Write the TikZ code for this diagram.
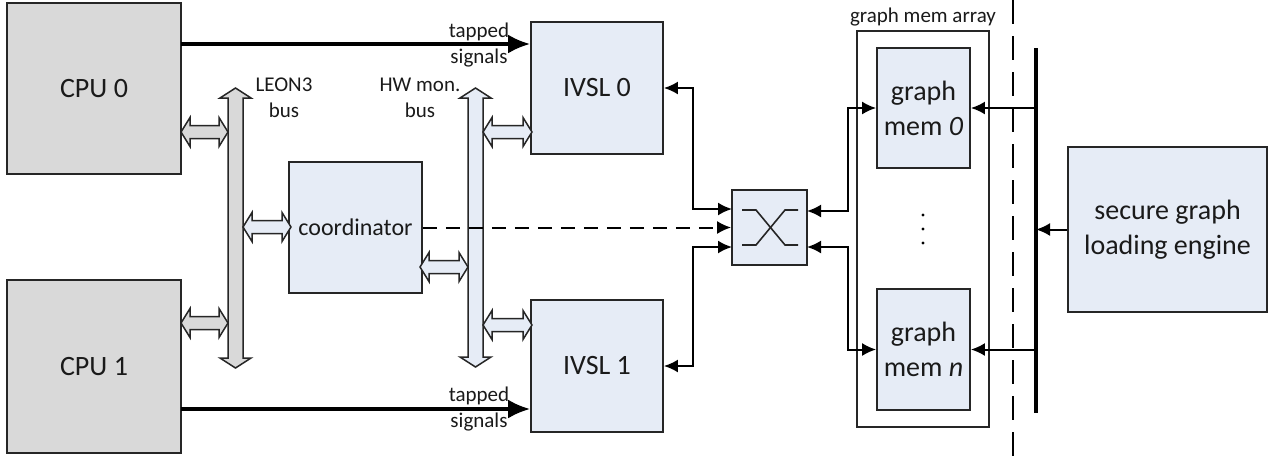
\documentclass[tikz,border=0pt]{standalone}
\usepackage{fontspec}
\setmainfont{Carlito}
\usetikzlibrary{arrows.meta}
\definecolor{cpugray}{HTML}{D9D9D9}
\definecolor{boxblue}{HTML}{E6ECF6}
\definecolor{edge}{HTML}{262626}
\definecolor{txt}{HTML}{1A1A1A}
\newcommand\fatH[4]{% x1 x2 y fill
  \filldraw[fill=#4,draw=edge,line width=1.5pt,line join=miter]
  (#1,#3) -- (#1+9,#3-14.5) -- (#1+9,#3-6.5) -- (#2-9,#3-6.5) -- (#2-9,#3-14.5) -- (#2,#3)
  -- (#2-9,#3+14.5) -- (#2-9,#3+6.5) -- (#1+9,#3+6.5) -- (#1+9,#3+14.5) -- cycle;}
\newcommand\fatV[4]{% cx ytop ybot fill
  \filldraw[fill=#4,draw=edge,line width=1.5pt,line join=miter]
  (#1,#2) -- (#1+15.5,#2+10) -- (#1+7.5,#2+10) -- (#1+7.5,#3-10) -- (#1+15.5,#3-10) -- (#1,#3)
  -- (#1-15.5,#3-10) -- (#1-7.5,#3-10) -- (#1-7.5,#2+10) -- (#1-15.5,#2+10) -- cycle;}
\begin{document}
\begin{tikzpicture}[x=1pt,y=-1pt,
  box/.style={draw=edge,line width=1.8pt,fill=boxblue,inner sep=0pt,align=center,text=txt,font=\fontsize{28}{35}\selectfont},
  cpubox/.style={box,fill=cpugray},
  lbl/.style={align=center,text=txt,font=\fontsize{21}{26}\selectfont,inner sep=0pt},
  conn/.style={draw=black,line width=2pt},
  tip/.style={-{Latex[length=14pt,width=13pt]}},
  tips/.style={{Latex[length=14pt,width=13pt]}-{Latex[length=14pt,width=13pt]}},
  tapped/.style={line width=3.2pt,-{Latex[length=22pt,width=19pt]}}]
\useasboundingbox (0,0) rectangle (1276,456);
\fill[white] (0,0) rectangle (1276,456);

% boxes
\node[cpubox,minimum width=174,minimum height=171] (cpu0) at (94,88.5) {CPU 0};
\node[cpubox,minimum width=174,minimum height=173] (cpu1) at (94,366.5) {CPU 1};
\node[box,minimum width=132,minimum height=132] (ivsl0) at (597,88) {IVSL 0};
\node[box,minimum width=132,minimum height=132] (ivsl1) at (597,366) {IVSL 1};
\node[box,minimum width=133,minimum height=131,font=\fontsize{24}{29}\selectfont] (coord) at (355.5,227.5) {coordinator};
\node[box,minimum width=75,minimum height=75] (sw) at (769.5,227.5) {};
\node[draw=edge,line width=1.8pt,fill=white,minimum width=132,minimum height=396,inner sep=0pt] (arr) at (923,229) {};
\node[box,minimum width=93,minimum height=120] (gm0) at (923.5,108) {graph\\mem \textit{0}};
\node[box,minimum width=93,minimum height=121] (gmn) at (923.5,349.5) {graph\\mem \textit{n}};
\node[box,minimum width=199,minimum height=165] (sgle) at (1167.5,229.5) {secure graph\\loading engine};

% labels
\node[lbl] (tap0lbl) at (479,45) {tapped\\signals};
\node[lbl] (tap1lbl) at (479,409) {tapped\\signals};
\node[lbl] (leonlbl) at (284,98) {LEON3\\bus};
\node[lbl] (hwlbl) at (420,98) {HW mon.\\bus};
\node[lbl] (arrlbl) at (923,17) {graph mem array};

% switch symbol
\draw[line width=1.6pt,draw=edge] (742,210) -- (756,210) -- (785,245) -- (798,245);
\draw[line width=1.6pt,draw=edge] (742,245) -- (756,245) -- (785,210) -- (798,210);

% dots
\foreach \yy in {215,229,243} \fill (923,\yy) circle (1.6);

% buses (fat)
\fatV{235.5}{88}{368}{cpugray}
\fatV{475.5}{88}{367}{boxblue}
\fatH{181}{228}{132}{cpugray}
\fatH{181}{228}{323}{cpugray}
\fatH{243}{291}{227}{boxblue}
\fatH{420}{468}{267}{boxblue}
\fatH{483}{532}{132}{boxblue}
\fatH{483}{532}{325}{boxblue}

% tapped signals
\coordinate (tap0) at (181,44);
\coordinate (tap1) at (181,409);
\draw[tapped] (tap0) -- (tap0 -| ivsl0.west);
\draw[tapped] (tap1) -- (tap1 -| ivsl1.west);

% switch ports
\coordinate (swL1) at (732,209);
\coordinate (swL3) at (732,247);
\coordinate (swR1) at (807,211);
\coordinate (swR3) at (807,247);
\draw[conn,tips] (ivsl0.east) -- (693,88) |- (swL1);
\draw[conn,tips] (ivsl1.east) -- (693,366) |- (swL3);
\draw[conn,tip,dash pattern=on 14pt off 9pt] (coord.east) -- (sw.west);
\draw[conn,tips] (swR1) -- (848,211) |- (gm0.west);
\draw[conn,tips] (swR3) -- (848,247) |- (gmn.west);

% loading bus
\draw[line width=1.8pt,draw=black,dash pattern=on 24pt off 12pt] (1013,0) -- (1013,456);
\coordinate (bustop) at (1036,48);
\coordinate (busbot) at (1036,413);
\draw[line width=4.5pt] (bustop) -- (busbot);
\draw[conn,tip] (gm0.east -| bustop) -- (gm0.east);
\draw[conn,tip] (gmn.east -| bustop) -- (gmn.east);
\draw[conn,tip] (sgle.west) -- (sgle.west -| bustop);
\end{tikzpicture}
\end{document}
